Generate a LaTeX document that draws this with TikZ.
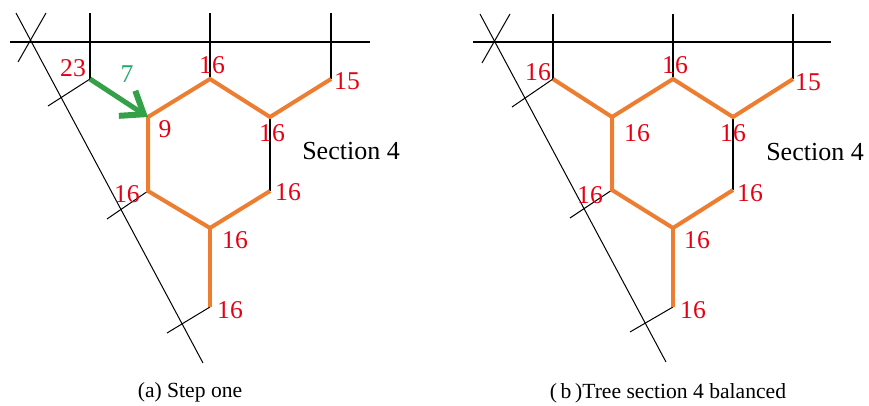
\documentclass[tikz,border=0pt]{standalone}
\usepackage{fontspec}
\setmainfont{Liberation Serif}
\usetikzlibrary{arrows.meta}
\definecolor{Naranja}{RGB}{237, 125, 49}
\definecolor{Rojo}{RGB}{230, 0, 18}
\definecolor{Verde}{RGB}{52, 160, 72}
\definecolor{VerdeTxt}{RGB}{30, 170, 110}

\begin{document}
\begin{tikzpicture}[
        x=0.5pt, y=-0.5pt,
        branch/.style={
            draw=Naranja,
            line width=2pt
        },
        wire/.style={
            draw=black,
            line width=0.75pt
        },
        axis/.style={
            draw=black,
            line width=0.5pt
        },
        num/.style={
            text=Rojo,
            inner sep=0pt,
            font=\fontsize{12.8}{14}\selectfont
        },
        move/.style={
            draw=Verde,
            line width=2.5pt,
            -{Straight Barb[length=10pt, width=15pt, line width=3pt]}
        },
        sec/.style={
            inner sep=0pt,
            font=\fontsize{13}{15}\selectfont
        },
        subcap/.style={
            inner sep=0pt,
            font=\fontsize{10.8}{13}\selectfont
        }
    ]
        \useasboundingbox (0,0) rectangle (869,406);

        % Panel (a): junctions
        \coordinate (aA) at (90,79);
        \coordinate (aB) at (148,117);
        \coordinate (aC) at (210,79);
        \coordinate (aD) at (270,117);
        \coordinate (aE) at (331,79);
        \coordinate (aF) at (148,191);
        \coordinate (aG) at (270,191);
        \coordinate (aH) at (210,228);
        \coordinate (aI) at (210,307);
        \coordinate (aTopL) at (10,42);
        \coordinate (aTopR) at (370,42);
        \coordinate (aDiag1) at (16,13);
        \coordinate (aDiag2) at (203,363);
        \coordinate (aX1) at (46,13);
        \coordinate (aX2) at (18,62);
        \coordinate (aTA) at (48,106);
        \coordinate (aTF) at (107,219);
        \coordinate (aTI) at (167,333);

        % Panel (a): grid
        \draw[wire] (aTopL) -- (aTopR);
        \draw[wire] (aA) -- (aA |- 0,13);
        \draw[wire] (aC) -- (aC |- 0,13);
        \draw[wire] (aE) -- (aE |- 0,13);
        \draw[wire] (aD) -- (aG);
        \draw[axis] (aDiag1) -- (aDiag2);
        \draw[axis] (aX1) -- (aX2);
        \draw[axis] (aA) -- (aTA);
        \draw[axis] (aF) -- (aTF);
        \draw[axis] (aI) -- (aTI);

        % Panel (a): tree
        \draw[branch] (aE) -- (aD) -- (aC) -- (aB) -- (aF) -- (aH) -- (aG);
        \draw[branch] (aH) -- (aI);
        \draw[move] (aA) -- (aB);

        % Panel (a): labels
        \node[num] (aL23) at (73,68) {23};
        \node[num, text=VerdeTxt] (aL7) at (127,74) {7};
        \node[num] (aLC) at (212,65) {16};
        \node[num] (aLE) at (347,81) {15};
        \node[num] (aLB) at (165,129) {9};
        \node[num] (aLD) at (272,133) {16};
        \node[num] (aLG) at (288,192) {16};
        \node[num] (aLF) at (127,194) {16};
        \node[num] (aLH) at (235,240) {16};
        \node[num] (aLI) at (230,310) {16};
        \node[sec] (aSec) at (351,151) {Section 4};
        \node[subcap] (aCap) at (190,392) {(a) Step one};

        % Panel (b): junctions
        \coordinate (bA) at (553,79);
        \coordinate (bB) at (612,117);
        \coordinate (bC) at (673,79);
        \coordinate (bD) at (733,117);
        \coordinate (bE) at (793,79);
        \coordinate (bF) at (612,190);
        \coordinate (bG) at (733,190);
        \coordinate (bH) at (673,228);
        \coordinate (bI) at (673,307);
        \coordinate (bTopL) at (473,42);
        \coordinate (bTopR) at (831,42);
        \coordinate (bDiag1) at (480,14);
        \coordinate (bDiag2) at (666,362);
        \coordinate (bX1) at (510,14);
        \coordinate (bX2) at (482,63);
        \coordinate (bTA) at (512,107);
        \coordinate (bTF) at (570,218);
        \coordinate (bTI) at (630,332);

        % Panel (b): grid
        \draw[wire] (bTopL) -- (bTopR);
        \draw[wire] (bA) -- (bA |- 0,14);
        \draw[wire] (bC) -- (bC |- 0,14);
        \draw[wire] (bE) -- (bE |- 0,14);
        \draw[wire] (bD) -- (bG);
        \draw[axis] (bDiag1) -- (bDiag2);
        \draw[axis] (bX1) -- (bX2);
        \draw[axis] (bA) -- (bTA);
        \draw[axis] (bF) -- (bTF);
        \draw[axis] (bI) -- (bTI);

        % Panel (b): tree
        \draw[branch] (bE) -- (bD) -- (bC) -- (bB) -- (bA);
        \draw[branch] (bB) -- (bF) -- (bH) -- (bG);
        \draw[branch] (bH) -- (bI);

        % Panel (b): labels
        \node[num] (bLA) at (538,72) {16};
        \node[num] (bLC) at (675,65) {16};
        \node[num] (bLE) at (808,82) {15};
        \node[num] (bLB) at (637,133) {16};
        \node[num] (bLD) at (733,133) {16};
        \node[num] (bLG) at (750,193) {16};
        \node[num] (bLF) at (590,195) {16};
        \node[num] (bLH) at (697,240) {16};
        \node[num] (bLI) at (693,310) {16};
        \node[sec] (bSec) at (815,152) {Section 4};
        \node[subcap] (bCap) at (668,393) {(\,b\,)Tree section 4 balanced};
\end{tikzpicture}
\end{document}
